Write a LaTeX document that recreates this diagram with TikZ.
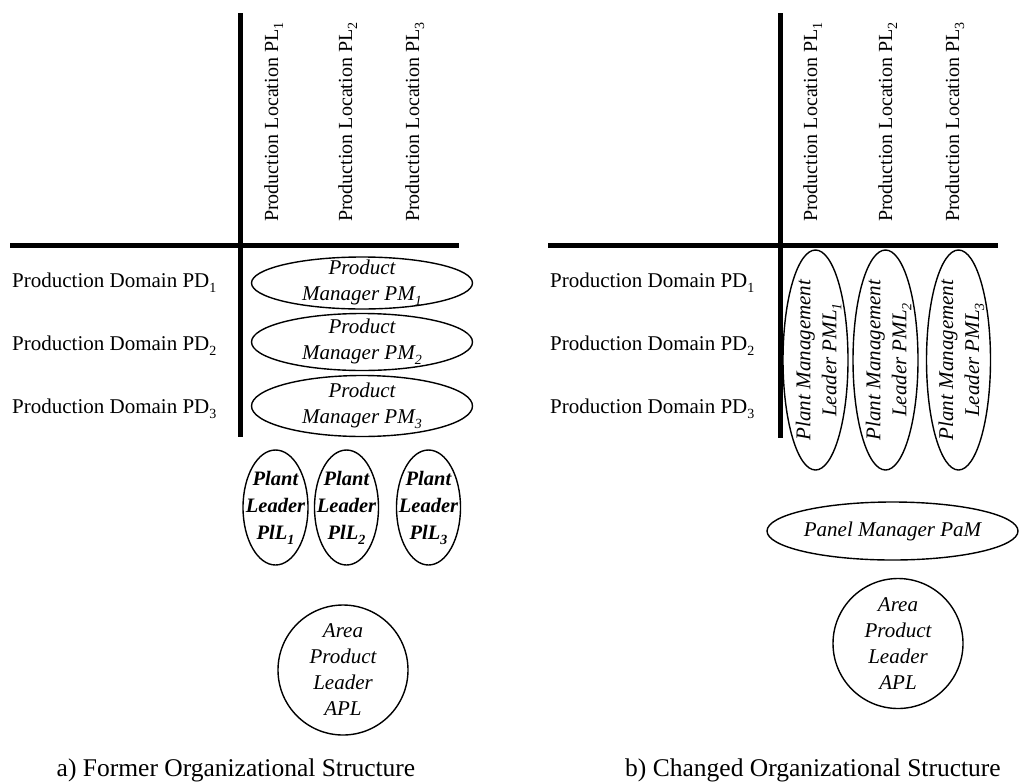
\documentclass[tikz,border=0pt]{standalone}
\usepackage{fontspec}
\setmainfont{Liberation Serif}
\usetikzlibrary{shapes.geometric}
\newcommand\lowsub[1]{\raisebox{-5pt}{\fontsize{14}{14}\selectfont #1}}
\tikzset{
  axisline/.style={line width=5pt},
  lbl/.style={font=\fontsize{21}{25}\selectfont, inner sep=0pt},
  collbl/.style={font=\fontsize{20}{24}\selectfont, inner sep=0pt, rotate=90, anchor=base west},
  oval/.style={draw, ellipse, line width=1.4pt, inner sep=0pt},
  itxt/.style={font=\fontsize{21}{26}\selectfont\itshape, align=center, inner sep=0pt},
  btxt/.style={font=\fontsize{20.5}{27}\selectfont\bfseries\itshape, align=center, inner sep=0pt},
  captxt/.style={font=\fontsize{25.5}{30}\selectfont, inner sep=0pt, anchor=base},
}
\begin{document}
\begin{tikzpicture}[x=1pt,y=-1pt]
\useasboundingbox (0,0) rectangle (1019,782);
% ---------- left panel ----------
\coordinate (lvt) at (240,13);
\coordinate (lvb) at (240,437);
\coordinate (lhl) at (10,245.5);
\coordinate (lhr) at (459,245.5);
\draw[axisline] (lvt) -- (lvb);
\draw[axisline] (lhl) -- (lhr);
\node[collbl] (lpl1) at (278,222) {Production Location PL\lowsub{1}};
\node[collbl] (lpl2) at (352,222) {Production Location PL\lowsub{2}};
\node[collbl] (lpl3) at (419,222) {Production Location PL\lowsub{3}};
\node[lbl, anchor=base west] (lpd1) at (12,287) {Production Domain PD\lowsub{1}};
\node[lbl, anchor=base west] (lpd2) at (12,350) {Production Domain PD\lowsub{2}};
\node[lbl, anchor=base west] (lpd3) at (12,413) {Production Domain PD\lowsub{3}};
\node[oval, minimum width=221pt, minimum height=52pt] (pm1) at (362,283) {};
\node[itxt] (pm1t) at (pm1) {Product\\Manager PM\lowsub{1}};
\node[oval, minimum width=221pt, minimum height=57pt] (pm2) at (362,342) {};
\node[itxt] (pm2t) at (pm2) {Product\\Manager PM\lowsub{2}};
\node[oval, minimum width=221pt, minimum height=61pt] (pm3) at (362,406) {};
\node[itxt] (pm3t) at (pm3) {Product\\Manager PM\lowsub{3}};
\node[oval, minimum width=65pt, minimum height=115pt] (pl1) at (275.5,507.5) {};
\node[btxt] (pl1t) at (pl1) {Plant\\Leader\\PlL\lowsub{1}};
\node[oval, minimum width=64pt, minimum height=115pt] (pl2) at (346.5,507.5) {};
\node[btxt] (pl2t) at (pl2) {Plant\\Leader\\PlL\lowsub{2}};
\node[oval, minimum width=64pt, minimum height=115pt] (pl3) at (428.5,507.5) {};
\node[btxt] (pl3t) at (pl3) {Plant\\Leader\\PlL\lowsub{3}};
\node[oval, circle, minimum size=130pt] (apla) at (343,670) {};
\node[itxt] (aplat) at (apla) {Area\\Product\\Leader\\APL};
\node[captxt] (capa) at (236,776) {a) Former Organizational Structure};
% ---------- right panel ----------
\coordinate (rvt) at (780,13);
\coordinate (rvb) at (780,438);
\coordinate (rhl) at (548,245.5);
\coordinate (rhr) at (998,245.5);
\draw[axisline] (rvt) -- (rvb);
\draw[axisline] (rhl) -- (rhr);
\node[collbl] (rpl1) at (817,222) {Production Location PL\lowsub{1}};
\node[collbl] (rpl2) at (892,222) {Production Location PL\lowsub{2}};
\node[collbl] (rpl3) at (959,222) {Production Location PL\lowsub{3}};
\node[lbl, anchor=base west] (rpd1) at (550,287) {Production Domain PD\lowsub{1}};
\node[lbl, anchor=base west] (rpd2) at (550,350) {Production Domain PD\lowsub{2}};
\node[lbl, anchor=base west] (rpd3) at (550,413) {Production Domain PD\lowsub{3}};
\node[oval, minimum width=65pt, minimum height=220pt] (pml1) at (815.5,360) {};
\node[itxt, rotate=90] (pml1t) at ([xshift=3pt]pml1.center) {Plant Management\\Leader PML\lowsub{1}};
\node[oval, minimum width=65pt, minimum height=220pt] (pml2) at (885.5,360) {};
\node[itxt, rotate=90] (pml2t) at ([xshift=3pt]pml2.center) {Plant Management\\Leader PML\lowsub{2}};
\node[oval, minimum width=64pt, minimum height=220pt] (pml3) at (958.5,360) {};
\node[itxt, rotate=90] (pml3t) at ([xshift=3pt]pml3.center) {Plant Management\\Leader PML\lowsub{3}};
\node[oval, minimum width=251pt, minimum height=58pt] (pam) at (892.5,531) {};
\node[itxt] (pamt) at (pam) {Panel Manager PaM};
\node[oval, circle, minimum size=130pt] (aplb) at (898,643.5) {};
\node[itxt] (aplbt) at (aplb) {Area\\Product\\Leader\\APL};
\node[captxt] (capb) at (813,776) {b) Changed Organizational Structure};
\end{tikzpicture}
\end{document}
